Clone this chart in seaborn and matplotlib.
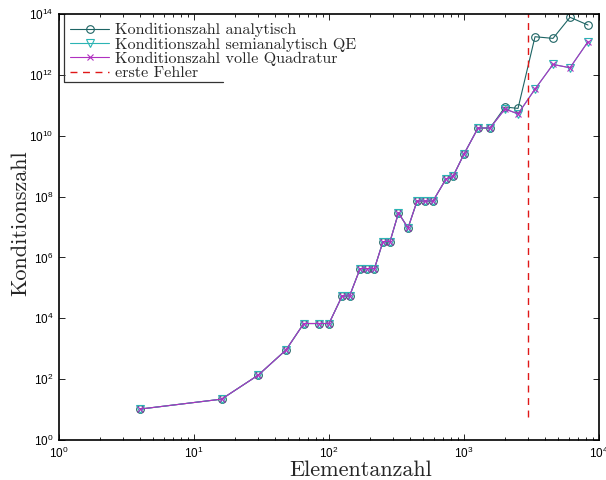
import numpy as np
import pandas as pd
import matplotlib
matplotlib.use("Agg")
import matplotlib.pyplot as plt
import seaborn as sns
from matplotlib.ticker import LogLocator, NullLocator, FixedLocator, LogFormatterSciNotation

# ---- data ----
elemente = [4, 16, 30, 48, 65, 84, 100, 125, 142, 170, 191, 217, 251, 283, 327, 385,
            449, 514, 589, 736, 829, 1000, 1270, 1560, 2014, 2513, 3357, 4563, 6100, 8290]
kond_analytisch = [10.4, 22, 137, 907, 6730, 6730, 6730, 5.4e4, 5.4e4, 4.3e5, 4.3e5, 4.3e5,
                   3.3e6, 3.3e6, 2.9e7, 9.3e6, 7.1e7, 7.1e7, 7.1e7, 3.8e8, 4.6e8, 2.5e9,
                   1.79e10, 1.79e10, 8.8e10, 7.9e10, 1.79e13, 1.58e13, 7.8e13, 4.34e13]
kond_semianalytisch = [10.4, 22, 137, 907, 6730, 6730, 6730, 5.4e4, 5.4e4, 4.3e5, 4.3e5, 4.3e5,
                       3.3e6, 3.3e6, 2.9e7, 9.3e6, 7.1e7, 7.1e7, 7.1e7, 3.8e8, 4.6e8, 2.5e9,
                       1.79e10, 1.79e10, 7.6e10, 5.2e10, 3.4e11, 2.2e12, 1.71e12, 1.23e13]
kond_voll = [10.4, 22, 137, 907, 6730, 6730, 6730, 5.4e4, 5.4e4, 4.3e5, 4.3e5, 4.3e5,
             3.3e6, 3.3e6, 2.9e7, 9.3e6, 7.1e7, 7.1e7, 7.1e7, 3.8e8, 4.6e8, 2.5e9,
             1.79e10, 1.79e10, 7.6e10, 5.2e10, 3.4e11, 2.2e12, 1.71e12, 1.23e13]
fehler_x = [2965, 2965]
fehler_y = [5.7, 1e14]

labels = ["Konditionszahl analytisch", "Konditionszahl semianalytisch QE",
          "Konditionszahl volle Quadratur", "erste Fehler"]

df = pd.DataFrame({"n": elemente, "a": kond_analytisch,
                   "s": kond_semianalytisch, "v": kond_voll})

sns.set_style("ticks")
plt.rcParams["font.family"] = ["Liberation Sans", "DejaVu Sans"]
plt.rcParams["mathtext.fontset"] = "custom"
plt.rcParams["mathtext.rm"] = "Liberation Sans"
plt.rcParams["mathtext.it"] = "Liberation Sans:italic"

fig = plt.figure(figsize=(6.06, 4.8), dpi=100)
ax = fig.add_axes([59/606, 40/480, 540/606, 426/480])

c_a = "#1d6464"
c_s = "#2bb4b4"
c_v = "#b030c0"
c_f = "#e01818"

sns.lineplot(data=df, x="n", y="a", ax=ax, color=c_a, lw=0.8, marker="o",
             markersize=5.5, markerfacecolor="none", markeredgecolor=c_a,
             markeredgewidth=0.8, sort=False, estimator=None, label=labels[0])
sns.lineplot(data=df, x="n", y="s", ax=ax, color=c_s, lw=0.8, marker="v",
             markersize=5.5, markerfacecolor="none", markeredgecolor=c_s,
             markeredgewidth=0.8, sort=False, estimator=None, label=labels[1])
sns.lineplot(data=df, x="n", y="v", ax=ax, color=c_v, lw=0.8, marker="x",
             markersize=3.8, markeredgecolor=c_v, markeredgewidth=0.8,
             sort=False, estimator=None, label=labels[2])
ax.plot(fehler_x, fehler_y, color=c_f, lw=1.0, ls=(0, (5, 4)), label=labels[3])

ax.set_xscale("log")
ax.set_yscale("log")
ax.set_xlim(1, 1e4)
ax.set_ylim(1, 1e14)

ax.xaxis.set_major_locator(LogLocator(base=10, numticks=10))
ax.xaxis.set_minor_locator(LogLocator(base=10, subs=np.arange(2, 10), numticks=20))
ax.yaxis.set_major_locator(FixedLocator(10.0 ** np.arange(0, 15, 2)))
ax.yaxis.set_minor_locator(NullLocator())
ax.xaxis.set_major_formatter(LogFormatterSciNotation())
ax.yaxis.set_major_formatter(LogFormatterSciNotation())

ax.tick_params(which="both", direction="in", top=True, right=True, labelsize=8.5,
               width=0.6, colors="black")
ax.tick_params(which="major", length=4.5, pad=4)
ax.tick_params(which="minor", length=2.5)
for s in ax.spines.values():
    s.set_linewidth(1.2)
    s.set_color("black")

ax.set_xlabel("Elementanzahl", family="cmr10", fontsize=16)
ax.set_ylabel("Konditionszahl", family="cmr10", fontsize=16)
ax.xaxis.set_label_coords(0.559, -0.047)
ax.yaxis.set_label_coords(-0.054, 0.51)

leg = ax.legend(loc="upper left", bbox_to_anchor=(0.012, 0.99), frameon=False,
                prop={"family": "cmr10", "size": 11.6}, handlelength=2.4,
                handletextpad=0.35, labelspacing=0.0, borderpad=0.3,
                borderaxespad=0.0)

# legend box (left and bottom edges as in the reference)
ax.plot([0.0093, 0.0093, 0.3037], [1.0, 0.840, 0.840], transform=ax.transAxes,
        color="#333333", lw=0.9, clip_on=False)

fig.savefig("out.png", dpi=100)
